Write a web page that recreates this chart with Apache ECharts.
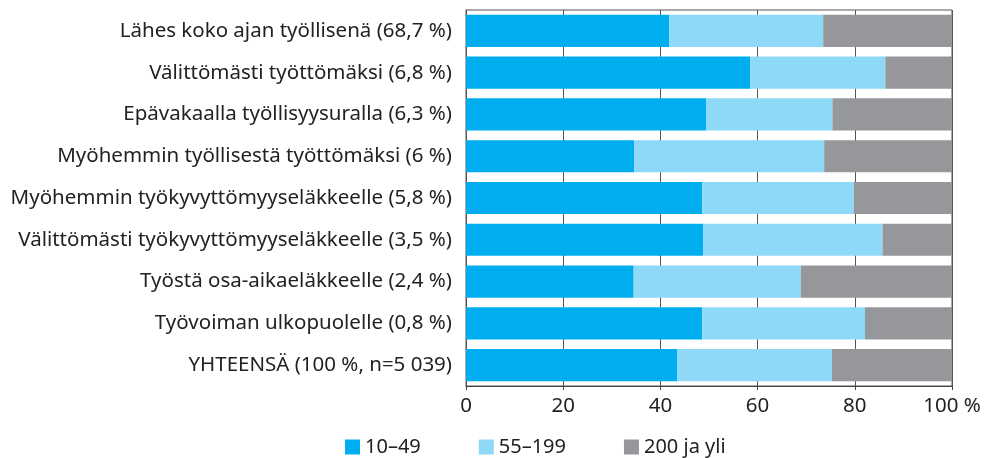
<!DOCTYPE html>
<html>
<head>
    <meta charset="utf-8">
    <title>Yrityskoko</title>
    <script src="https://cdn.jsdelivr.net/npm/echarts@6/dist/echarts.min.js"></script>
    <style>
        body { margin: 0; background: #fff; }
    </style>
</head>
<body>
<div id="main" style="width: 984px;height:458px;"></div>
<script>

// rivit ylhäältä alas
var categories = [
    'Lähes koko ajan työllisenä (68,7 %)',
    'Välittömästi työttömäksi (6,8 %)',
    'Epävakaalla työllisyysuralla (6,3 %)',
    'Myöhemmin työllisestä työttömäksi (6 %)',
    'Myöhemmin työkyvyttömyyseläkkeelle (5,8 %)',
    'Välittömästi työkyvyttömyyseläkkeelle (3,5 %)',
    'Työstä osa-aikaeläkkeelle (2,4 %)',
    'Työvoiman ulkopuolelle (0,8 %)',
    'YHTEENSÄ (100 %, n=5 039)'
];
var seriesNames = ['10–49', '55–199', '200 ja yli'];
var small = [41.8, 58.5, 49.4, 34.6, 48.6, 48.8, 34.5, 48.6, 43.5];
var medium = [31.7, 27.8, 26.0, 39.1, 31.2, 36.9, 34.4, 33.5, 31.8];
var large = [26.5, 13.7, 24.6, 26.3, 20.2, 14.3, 31.1, 17.9, 24.7];
var xTicks = [0, 20, 40, 60, 80, 100];

var colors = ['#00aeef', '#8ed8f8', '#96979b'];
var font = 'Noto Sans';

function bar(name, data, color) {
    return {
        name: name,
        type: 'bar',
        stack: 'total',
        barCategoryGap: '23%',
        silent: true,
        itemStyle: { color: color },
        data: data
    };
}

var option = {
    animation: false,
    textStyle: { fontFamily: font },
    color: colors,
    grid: {
        left: 466, right: 32, top: 10, bottom: 72,
        show: true,
        borderColor: '#555',
        borderWidth: 1
    },
    legend: {
        left: 340,
        top: 432,
        icon: 'rect',
        itemWidth: 15,
        itemHeight: 15,
        itemGap: 58,
        textStyle: { fontSize: 20, color: '#222', fontFamily: font },
        data: seriesNames
    },
    xAxis: {
        type: 'value',
        min: xTicks[0],
        max: xTicks[xTicks.length - 1],
        interval: 20,
        axisLine: { show: true, lineStyle: { color: '#444' } },
        axisTick: { show: true, length: 4, lineStyle: { color: '#444' } },
        splitLine: { show: true, lineStyle: { color: '#555', width: 1 } },
        axisLabel: {
            fontSize: 20.5,
            color: '#222',
            margin: 10,
            formatter: function (v) { return v === 100 ? '100 %' : String(v); }
        }
    },
    yAxis: {
        type: 'category',
        inverse: true,
        data: categories,
        axisLine: { show: true, lineStyle: { color: '#555' } },
        axisTick: { show: false },
        axisLabel: { fontSize: 20.5, color: '#222', margin: 14 }
    },
    series: [
        bar(seriesNames[0], small, colors[0]),
        bar(seriesNames[1], medium, colors[1]),
        bar(seriesNames[2], large, colors[2])
    ]
};

var myChart = echarts.init(document.getElementById('main'));
myChart.setOption(option);

</script>
</body>
</html>
